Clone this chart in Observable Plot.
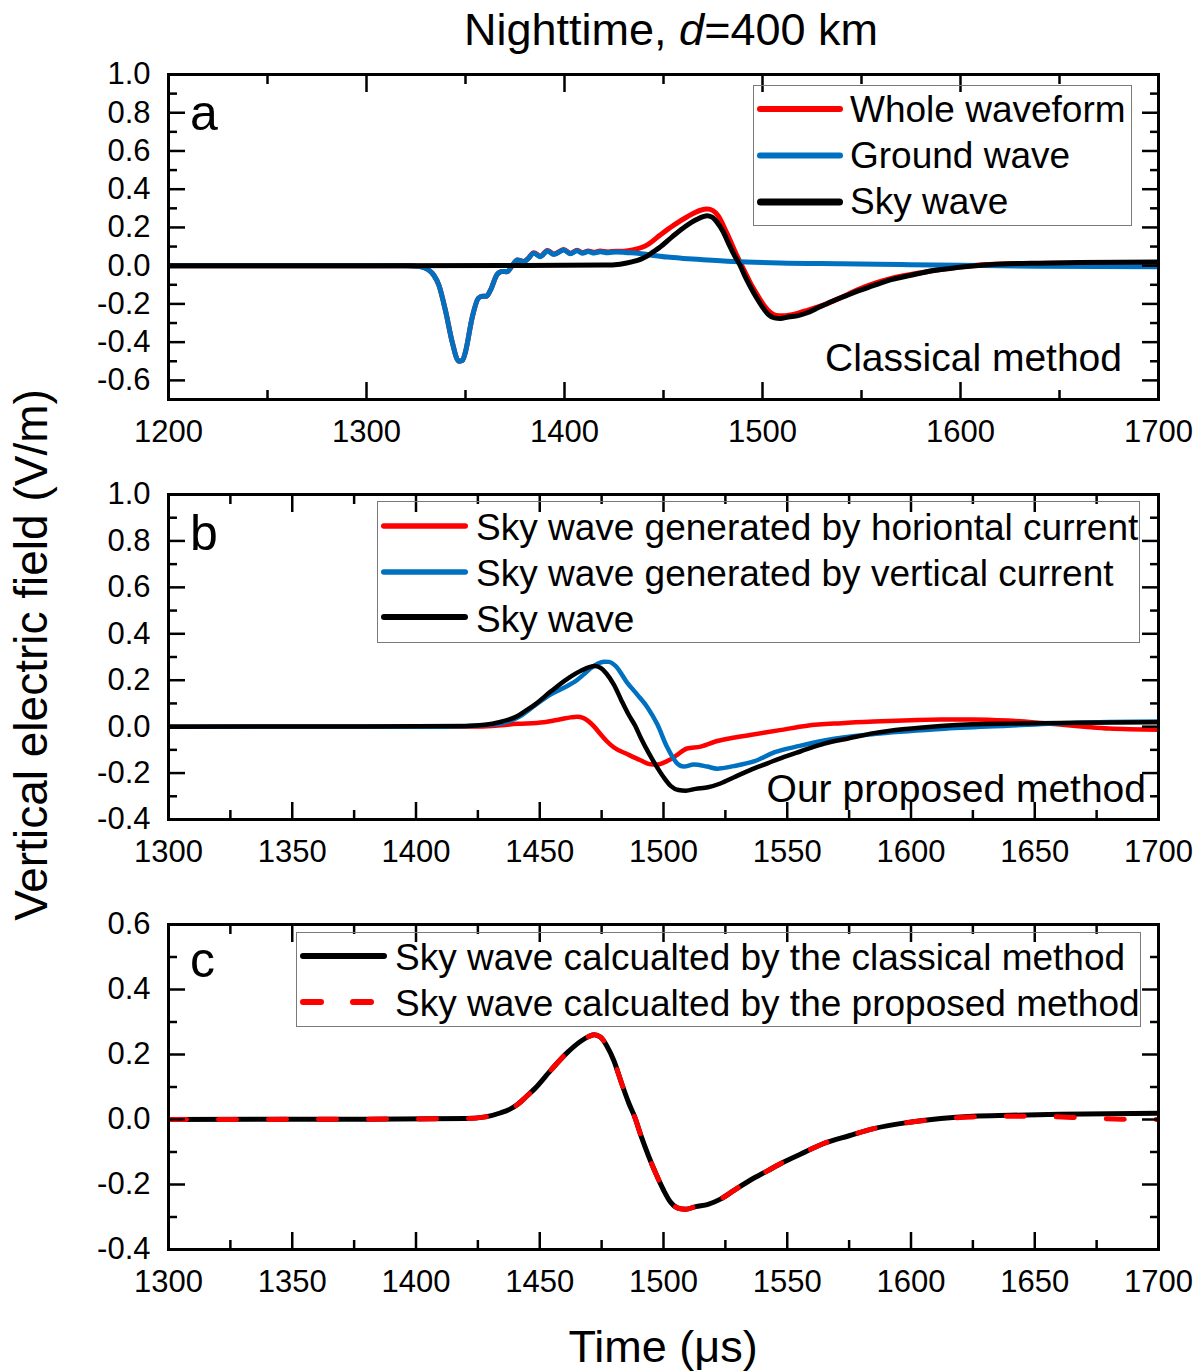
<!DOCTYPE html>
<html><head><meta charset="utf-8">
<script src="https://cdn.jsdelivr.net/npm/d3@7"></script>
<script src="https://cdn.jsdelivr.net/npm/@observablehq/plot@0.6"></script>
<style>
html,body{margin:0;padding:0;background:#fff;}
#root{position:relative;width:1203px;height:1372px;background:#fff;font-family:"Liberation Sans",Arial,sans-serif;color:#000;overflow:hidden;}
.abs{position:absolute;white-space:nowrap;line-height:1;}
.plot{position:absolute;left:0;}
.legend{position:absolute;border:1px solid #7a7a7a;box-sizing:border-box;}
</style></head><body><div id="root"></div>
<script>
// ---------------- DATA ----------------
// [time (us), vertical electric field (V/m)]
const groundWave = [[1200,0],[1320,0],[1327,-0.005],[1331,-0.02],[1334,-0.05],[1336.5,-0.1],[1340,-0.24],[1343.3,-0.4],[1346.6,-0.5],[1348.5,-0.495],[1350,-0.45],[1353.4,-0.27],[1356.5,-0.17],[1358.5,-0.16],[1360.5,-0.16],[1362.6,-0.128],[1366,-0.045],[1368.5,-0.03],[1371,-0.032],[1373.6,0],[1376.1,0.03],[1379.5,0.02],[1381.5,0.035],[1384.5,0.065],[1387.9,0.047],[1391.3,0.077],[1394.7,0.058],[1399.6,0.082],[1403,0.062],[1406.4,0.078],[1409,0.065],[1412,0.074],[1415,0.066],[1418,0.073],[1422,0.068],[1426,0.072],[1431.7,0.068],[1437,0.065],[1443.4,0.056],[1451.9,0.045],[1460,0.038],[1468.7,0.032],[1485,0.022],[1509,0.014],[1540,0.01],[1570,0.006],[1600,0.002],[1640,-0.003],[1700,-0.006]];
const wholeWaveform = [[1200,0],[1320,0],[1327,-0.005],[1331,-0.02],[1334,-0.05],[1336.5,-0.1],[1340,-0.24],[1343.3,-0.4],[1346.6,-0.5],[1348.5,-0.495],[1350,-0.45],[1353.4,-0.27],[1356.5,-0.17],[1358.5,-0.16],[1360.5,-0.16],[1362.6,-0.128],[1366,-0.045],[1368.5,-0.03],[1371,-0.032],[1373.6,0],[1376.1,0.03],[1379.5,0.022],[1381.5,0.037],[1384.5,0.068],[1387.9,0.05],[1391.3,0.08],[1394.7,0.061],[1399.6,0.085],[1403,0.065],[1406.4,0.081],[1409,0.068],[1412,0.077],[1415,0.07],[1418,0.077],[1422,0.072],[1426,0.076],[1430,0.076],[1435,0.084],[1441.8,0.109],[1448.5,0.162],[1455.2,0.212],[1462,0.256],[1468.7,0.29],[1472,0.296],[1475,0.288],[1477.5,0.262],[1482,0.17],[1487.2,0.05],[1491,-0.03],[1494,-0.093],[1497.5,-0.155],[1500.7,-0.207],[1504,-0.245],[1507,-0.26],[1510,-0.262],[1518,-0.248],[1523,-0.232],[1531,-0.205],[1540,-0.165],[1548,-0.126],[1565,-0.067],[1581.5,-0.034],[1598,-0.008],[1624,0.01],[1657,0.013],[1700,0.016]];
const skyWave = [[1200,0],[1300,0],[1380,0.001],[1420,0.003],[1428,0.008],[1434,0.02],[1438,0.032],[1441,0.046],[1444.5,0.07],[1448,0.095],[1454.5,0.152],[1461,0.205],[1467,0.243],[1470,0.256],[1472,0.261],[1474.5,0.254],[1477,0.228],[1480,0.18],[1483,0.113],[1486,0.05],[1488.5,0.005],[1491,-0.052],[1494,-0.113],[1497,-0.168],[1500,-0.217],[1503,-0.256],[1506,-0.273],[1509,-0.276],[1513,-0.268],[1518,-0.261],[1523,-0.245],[1528.5,-0.218],[1535,-0.187],[1542,-0.158],[1548,-0.133],[1555.5,-0.106],[1565,-0.073],[1575,-0.05],[1585,-0.028],[1598,-0.01],[1612,0.003],[1625,0.01],[1640,0.013],[1660,0.016],[1680,0.018],[1700,0.019]];
const skyProposed = [[1300,0],[1380,0.001],[1420,0.003],[1428,0.008],[1434,0.02],[1438,0.032],[1441,0.046],[1444.5,0.07],[1448,0.095],[1454.5,0.152],[1461,0.205],[1467,0.243],[1470,0.256],[1472,0.261],[1474.5,0.254],[1477,0.228],[1480,0.18],[1483,0.113],[1486,0.05],[1488.5,0.005],[1491,-0.052],[1494,-0.113],[1497,-0.168],[1500,-0.217],[1503,-0.256],[1506,-0.273],[1509,-0.276],[1513,-0.268],[1518,-0.261],[1523,-0.245],[1528.5,-0.218],[1535,-0.187],[1542,-0.158],[1548,-0.133],[1555.5,-0.106],[1565,-0.073],[1575,-0.05],[1585,-0.028],[1598,-0.01],[1612,0.002],[1625,0.008],[1640,0.01],[1655,0.009],[1670,0.005],[1685,0.001],[1700,0.0]];
const skyHorizontal = [[1300,0],[1410,0],[1427,0.001],[1441,0.012],[1451.6,0.019],[1458.4,0.032],[1462.5,0.04],[1465.1,0.043],[1467.5,0.038],[1469.5,0.025],[1472,0.0],[1474.5,-0.032],[1477,-0.062],[1480,-0.09],[1485.3,-0.118],[1490.7,-0.145],[1494.7,-0.162],[1497.5,-0.163],[1500.1,-0.155],[1503,-0.14],[1505.5,-0.122],[1509.5,-0.094],[1515,-0.086],[1521.7,-0.062],[1528,-0.048],[1535,-0.036],[1547,-0.015],[1558,0.004],[1572,0.015],[1585,0.022],[1600,0.028],[1612,0.031],[1625,0.031],[1639,0.026],[1650,0.018],[1659,0.01],[1670,0.0],[1680,-0.008],[1700,-0.013]];
const skyVertical = [[1300,0],[1410,0],[1430,0.008],[1438,0.025],[1442,0.045],[1447.6,0.088],[1454.3,0.138],[1461.1,0.175],[1465,0.2],[1467.8,0.225],[1471,0.255],[1473.5,0.272],[1476,0.28],[1478,0.279],[1480.6,0.262],[1485.3,0.19],[1489.4,0.138],[1493.4,0.085],[1497.5,0.01],[1501.5,-0.089],[1505.5,-0.158],[1508.2,-0.172],[1512.2,-0.163],[1517.6,-0.172],[1521.7,-0.181],[1528.4,-0.17],[1536.5,-0.15],[1545,-0.11],[1555,-0.083],[1565,-0.06],[1585,-0.032],[1612,-0.01],[1639,0.004],[1666,0.017],[1700,0.022]];

// tick values
const xTicksA = [1200,1300,1400,1500,1600,1700];
const xMinorA = [1250,1350,1450,1550,1650];
const xTicksBC = [1300,1350,1400,1450,1500,1550,1600,1650,1700];
const xMinorBC = [1325,1375,1425,1475,1525,1575,1625,1675];
const yTicksA = [-0.6,-0.4,-0.2,0,0.2,0.4,0.6,0.8,1.0];
const yMinorA = [-0.5,-0.3,-0.1,0.1,0.3,0.5,0.7,0.9];
const yTicksB = [-0.4,-0.2,0,0.2,0.4,0.6,0.8,1.0];
const yMinorB = [-0.3,-0.1,0.1,0.3,0.5,0.7,0.9];
const yTicksC = [-0.4,-0.2,0,0.2,0.4,0.6];
const yMinorC = [-0.3,-0.1,0.1,0.3,0.5];

// labels
const titleText = ["Nighttime, ", "d", "=400 km"];
const yLabel = "Vertical electric field (V/m)";
const xLabel = "Time (\u03bcs)";
const legendA = ["Whole waveform","Ground wave","Sky wave"];
const legendB = ["Sky wave generated by horiontal current","Sky wave generated by vertical current","Sky wave"];
const legendC = ["Sky wave calcualted by the classical method","Sky wave calcualted by the proposed method"];

const RED = "#ff0000", BLUE = "#0070c0", BLACK = "#000000";
const FONT = "'Liberation Sans', Arial, sans-serif";

// ---------------- DRAW ----------------
const root = document.getElementById("root");

function panel(cfg) {
  const tick = {stroke: "#000", strokeWidth: 2.5, fill: "none", label: null};
  const lab = {stroke: "none", fill: "#000", fontSize: 31, label: null, tickSize: 0};
  const marks = cfg.series.map(s => Plot.line(s.data, {
    x: d => d[0], y: d => d[1], stroke: s.color, strokeWidth: s.width,
    strokeDasharray: s.dash || null, strokeLinecap: "round", strokeLinejoin: "round",
    curve: "monotone-x", clip: true
  }));
  marks.push(
    Plot.axisY({...tick, ticks: cfg.yMajor, anchor: "left", tickSize: 17, dx: 17}),
    Plot.axisY({...tick, ticks: cfg.yMinor, anchor: "left", tickSize: 9, dx: 9}),
    Plot.axisY({...tick, ticks: cfg.yMajor, anchor: "right", tickSize: 17, dx: -17}),
    Plot.axisY({...tick, ticks: cfg.yMinor, anchor: "right", tickSize: 9, dx: -9}),
    Plot.axisX({...tick, ticks: cfg.xMajor, anchor: "bottom", tickSize: 17, dy: -17}),
    Plot.axisX({...tick, ticks: cfg.xMinor, anchor: "bottom", tickSize: 9, dy: -9}),
    Plot.axisX({...tick, ticks: cfg.xMajor, anchor: "top", tickSize: 17, dy: 17}),
    Plot.axisX({...tick, ticks: cfg.xMinor, anchor: "top", tickSize: 9, dy: 9}),
    Plot.axisY({...lab, ticks: cfg.yMajor, anchor: "left", tickPadding: 18, tickFormat: d => d.toFixed(1)}),
    Plot.axisX({...lab, ticks: cfg.xMajor, anchor: "bottom", tickPadding: 20, tickFormat: d => String(d)}),
    Plot.frame({stroke: "#000", strokeWidth: 3})
  );
  const svg = Plot.plot({
    width: 1203, height: 388,
    marginTop: 13, marginBottom: 50, marginLeft: 168, marginRight: 45,
    x: {domain: cfg.xDomain},
    y: {domain: cfg.yDomain},
    style: {fontFamily: FONT, fontSize: "31px", color: "#000", background: "transparent", overflow: "visible"},
    marks
  });
  svg.classList.add("plot");
  svg.style.top = cfg.top + "px";
  root.appendChild(svg);
}

panel({top: 61, xDomain: [1200,1700], yDomain: [-0.7,1.0], xMajor: xTicksA, xMinor: xMinorA, yMajor: yTicksA, yMinor: yMinorA,
  series: [{data: wholeWaveform, color: RED, width: 5}, {data: groundWave, color: BLUE, width: 5}, {data: skyWave, color: BLACK, width: 5}]});
panel({top: 481, xDomain: [1300,1700], yDomain: [-0.4,1.0], xMajor: xTicksBC, xMinor: xMinorBC, yMajor: yTicksB, yMinor: yMinorB,
  series: [{data: skyHorizontal, color: RED, width: 4.5}, {data: skyVertical, color: BLUE, width: 4.5}, {data: skyWave, color: BLACK, width: 4.5}]});
panel({top: 911, xDomain: [1300,1700], yDomain: [-0.4,0.6], xMajor: xTicksBC, xMinor: xMinorBC, yMajor: yTicksC, yMinor: yMinorC,
  series: [{data: skyWave, color: BLACK, width: 5}, {data: skyProposed, color: RED, width: 5, dash: "18,32"}]});

// text helper: x position with anchor, baseline y
function text(html, x, baseline, size, anchor, extra) {
  const d = document.createElement("div");
  d.className = "abs";
  d.innerHTML = html;
  d.style.fontSize = size + "px";
  d.style.top = (baseline - 0.8465 * size) + "px";
  if (anchor === "end") { d.style.right = (1203 - x) + "px"; }
  else if (anchor === "middle") { d.style.left = x + "px"; d.style.transform = "translateX(-50%)"; }
  else d.style.left = x + "px";
  if (extra) Object.assign(d.style, extra);
  root.appendChild(d);
  return d;
}

// title
text(titleText[0] + "<i>" + titleText[1] + "</i>" + titleText[2], 671, 45, 45, "middle");
// x label
text(xLabel, 663, 1362, 45, "middle");
// y label (rotated)
{
  const d = document.createElement("div");
  d.className = "abs";
  d.textContent = yLabel;
  d.style.fontSize = "46px";
  d.style.left = "31px"; d.style.top = "655px";
  d.style.transform = "translate(-50%,-50%) rotate(-90deg)";
  root.appendChild(d);
}
// panel letters
text("a", 190, 130, 50);
text("b", 190, 550, 50);
text("c", 190, 977, 50);
// annotations
text("Classical method", 1122, 371, 39, "end");
text("Our proposed method", 1146, 802, 39, "end");

// legends
function legend(box, items, lineX1, lineX2, textX, lineYs, baseYs) {
  const b = document.createElement("div");
  b.className = "legend";
  b.style.left = box[0] + "px"; b.style.top = box[1] + "px";
  b.style.width = (box[2] - box[0]) + "px"; b.style.height = (box[3] - box[1]) + "px";
  root.appendChild(b);
  const ns = "http://www.w3.org/2000/svg";
  const svg = document.createElementNS(ns, "svg");
  svg.setAttribute("width", 1203); svg.setAttribute("height", 1372);
  svg.style.position = "absolute"; svg.style.left = "0"; svg.style.top = "0"; svg.style.pointerEvents = "none";
  items.forEach((it, i) => {
    const l = document.createElementNS(ns, "line");
    l.setAttribute("x1", lineX1 + it.w / 2); l.setAttribute("x2", lineX2 - it.w / 2);
    l.setAttribute("y1", lineYs[i]); l.setAttribute("y2", lineYs[i]);
    l.setAttribute("stroke", it.color); l.setAttribute("stroke-width", it.w);
    l.setAttribute("stroke-linecap", "round");
    if (it.dash) l.setAttribute("stroke-dasharray", it.dash);
    svg.appendChild(l);
    text(it.label, textX, baseYs[i], 37);
  });
  root.appendChild(svg);
}
legend([753, 85, 1132, 226],
  [{label: legendA[0], color: RED, w: 6}, {label: legendA[1], color: BLUE, w: 6}, {label: legendA[2], color: BLACK, w: 7}],
  757, 843, 850, [109, 155.5, 202], [122, 168, 214]);
legend([377, 501, 1140, 643],
  [{label: legendB[0], color: RED, w: 5.5}, {label: legendB[1], color: BLUE, w: 5.5}, {label: legendB[2], color: BLACK, w: 6}],
  381, 468, 476, [526, 572, 617], [540, 586, 632]);
legend([296, 932, 1141, 1027],
  [{label: legendC[0], color: BLACK, w: 6}, {label: legendC[1], color: RED, w: 6, dash: "18,32"}],
  300, 387, 395, [956, 1002], [970, 1016]);
</script></body></html>
